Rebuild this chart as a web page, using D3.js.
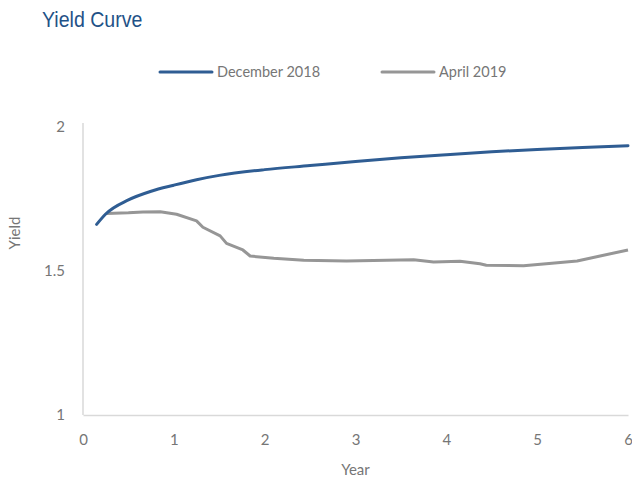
<!DOCTYPE html>
<html>
<head>
<meta charset="utf-8">
<script src="https://cdn.jsdelivr.net/npm/d3@7"></script>
<style>
  body { margin: 0; background: #fff; }
  text { font-family: Lato, "Open Sans", sans-serif; fill: #767676; }
</style>
</head>
<body>
<svg width="632" height="481"></svg>
<script>
// December 2018 curve (year, yield)
var decYears  = [0.15, 0.25, 0.5, 0.75, 1, 1.25, 1.5, 2, 2.5, 3, 3.5, 4, 4.5, 5, 5.5, 6];
var decYields = [1.662, 1.698, 1.747, 1.777, 1.798, 1.817, 1.832, 1.852, 1.866, 1.880, 1.893, 1.904, 1.914, 1.922, 1.929, 1.935];

// April 2019 curve
var aprYears  = [0.26, 0.5, 0.66, 0.85, 1.03, 1.25, 1.32, 1.51, 1.58, 1.76, 1.84, 2.1, 2.43, 2.9, 3.64, 3.86, 4.15, 4.37, 4.44, 4.85, 5.1, 5.44, 6.0];
var aprYields = [1.700, 1.702, 1.705, 1.706, 1.697, 1.674, 1.652, 1.622, 1.596, 1.573, 1.552, 1.544, 1.537, 1.535, 1.539, 1.531, 1.534, 1.525, 1.520, 1.518, 1.525, 1.535, 1.573];

var xTicks = [0, 1, 2, 3, 4, 5, 6];
var yTicks = [1, 1.5, 2];

var svg = d3.select("svg");
var margin = { top: 127, right: 4, bottom: 66, left: 83 };
var width = +svg.attr("width") - margin.left - margin.right;
var height = +svg.attr("height") - margin.top - margin.bottom;

var x = d3.scaleLinear().domain([0, 6]).range([0, width]);
var y = d3.scaleLinear().domain([1, 2]).range([height, 0]);

var g = svg.append("g")
  .attr("transform", "translate(" + margin.left + "," + margin.top + ")");

// title (narrow font faked by squeezing Liberation Sans)
svg.append("text")
  .attr("transform", "translate(42,27) scale(0.89,1)")
  .style("font-family", "'Liberation Sans', Arial, sans-serif")
  .style("font-size", "22px")
  .style("fill", "#1f5287")
  .text("Yield Curve");

// axes - just the plain lines and labels
var xAxis = g.append("g")
  .attr("transform", "translate(0," + height + ")")
  .call(d3.axisBottom(x).tickValues(xTicks).tickSize(0).tickPadding(19).tickFormat(d3.format("d")));
var yAxis = g.append("g")
  .call(d3.axisLeft(y).tickValues(yTicks).tickSize(0).tickPadding(18).tickFormat(d => d));

[xAxis, yAxis].forEach(function(a) {
  a.select(".domain").attr("stroke", "#d9d9d9").attr("stroke-width", 1.5);
  a.selectAll("text").style("font-size", "15px").style("fill", "#767676").attr("font-family", null);
});
yAxis.select(".domain").attr("d", "M0," + (height) + "V-4");

svg.append("text")
  .attr("transform", "translate(20," + (margin.top + 106) + ") rotate(-90)")
  .attr("text-anchor", "middle")
  .style("font-size", "15px")
  .text("Yield");

svg.append("text")
  .attr("x", margin.left + x(3)).attr("y", 475)
  .attr("text-anchor", "middle")
  .style("font-size", "15px")
  .text("Year");

var line = d3.line()
  .x(d => x(d[0]))
  .y(d => y(d[1]));

var aprData = d3.zip(aprYears, aprYields);
var decData = d3.zip(decYears, decYields);

g.append("path")
  .datum(aprData)
  .attr("fill", "none")
  .attr("stroke", "#969696")
  .attr("stroke-width", 3)
  .attr("stroke-linejoin", "round")
  .attr("d", line);

g.append("path")
  .datum(decData)
  .attr("fill", "none")
  .attr("stroke", "#2f5d93")
  .attr("stroke-width", 3)
  .attr("stroke-linecap", "round")
  .attr("d", line.curve(d3.curveMonotoneX));

// legend
var legend = [
  { name: "December 2018", color: "#2f5d93", x: 160 },
  { name: "April 2019", color: "#969696", x: 382 }
];
var lg = svg.selectAll(".legend").data(legend).enter().append("g")
  .attr("transform", d => "translate(" + d.x + ",72)");
lg.append("line")
  .attr("x1", 0).attr("x2", 52)
  .attr("stroke", d => d.color)
  .attr("stroke-width", 3)
  .attr("stroke-linecap", "round");
lg.append("text")
  .attr("x", 57).attr("y", 5)
  .style("font-size", "14.5px")
  .text(d => d.name);
</script>
</body>
</html>
